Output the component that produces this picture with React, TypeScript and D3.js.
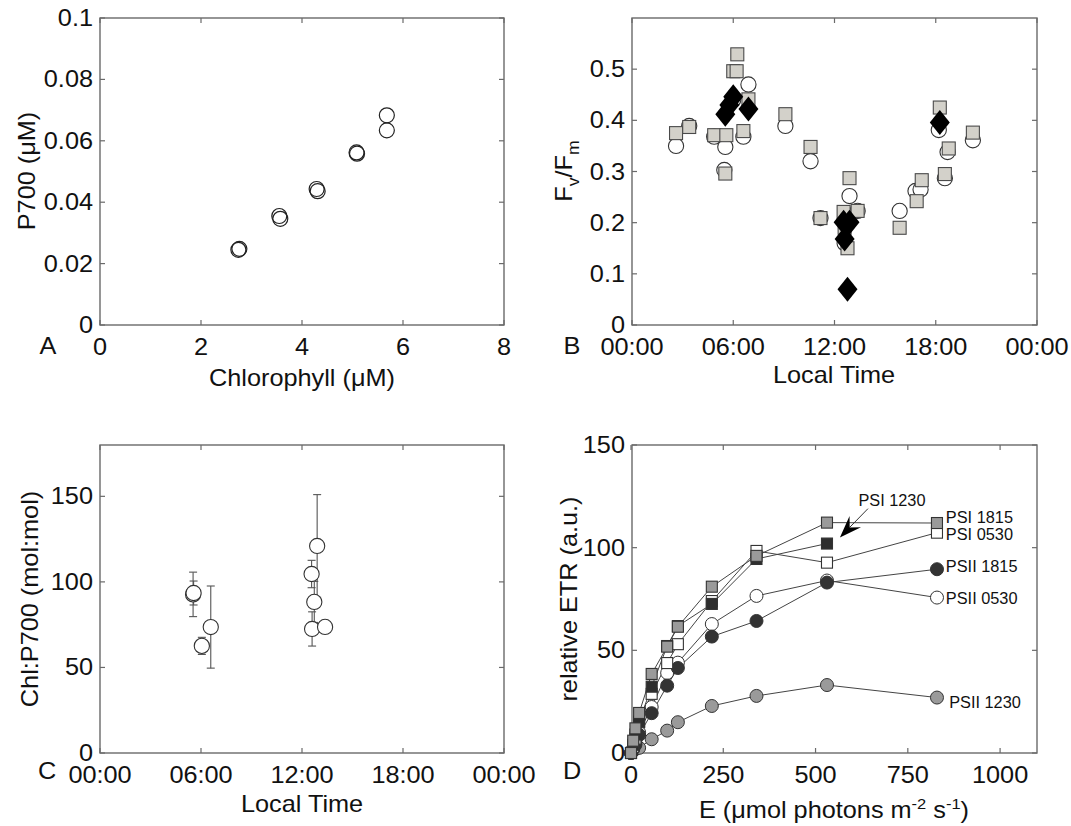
import React from "react";
import * as d3 from "d3";

const W = 1071;
const H = 826;
const FONT = "'Liberation Sans', Arial, Helvetica, sans-serif";
const AXIS = "#6a6a6a";
const SX = 1.1; // text in the figure is a bit wider than Arial

// ---- panel A : P700 vs chlorophyll
const chlA = [2.74, 2.76, 3.55, 3.57, 4.29, 4.31, 5.08, 5.09, 5.68, 5.68];
const p700A = [0.0245, 0.0248, 0.0355, 0.0346, 0.0443, 0.0436, 0.0562, 0.0558, 0.0683, 0.0634];
const chlTicks = [0, 2, 4, 6, 8];
const p700Ticks = [0, 0.02, 0.04, 0.06, 0.08, 0.1];
const p700TickLabels = ["0", "0.02", "0.04", "0.06", "0.08", "0.1"];

// ---- panel B : Fv/Fm over the day
const timeTicks = [0, 6, 12, 18, 24];
const timeTickLabels = ["00:00", "06:00", "12:00", "18:00", "00:00"];
const fvfmTicks = [0, 0.1, 0.2, 0.3, 0.4, 0.5];
const fvfmTickLabels = ["0", "0.1", "0.2", "0.3", "0.4", "0.5"];
const circTimeB = [2.61, 3.39, 4.87, 5.53, 5.47, 6.6, 6.9, 6.0, 9.09, 10.58, 11.17, 12.89, 13.37, 12.6, 15.86, 16.8, 17.1, 18.18, 18.7, 18.54, 20.2];
const circFvfmB = [0.35, 0.389, 0.368, 0.348, 0.303, 0.368, 0.47, 0.44, 0.389, 0.32, 0.209, 0.252, 0.223, 0.16, 0.223, 0.262, 0.265, 0.381, 0.338, 0.287, 0.361];
const sqTimeB = [2.61, 3.39, 4.87, 5.59, 5.53, 6.24, 6.0, 6.2, 6.9, 6.6, 9.09, 10.58, 11.17, 12.89, 12.54, 13.37, 12.77, 12.6, 15.86, 16.87, 17.17, 18.24, 18.77, 18.54, 20.2];
const sqFvfmB = [0.375, 0.387, 0.371, 0.371, 0.296, 0.529, 0.496, 0.496, 0.441, 0.379, 0.412, 0.348, 0.209, 0.287, 0.221, 0.223, 0.15, 0.19, 0.19, 0.242, 0.283, 0.425, 0.345, 0.295, 0.376];
const diaTimeB = [5.53, 5.77, 6.0, 6.9, 12.6, 12.54, 12.89, 12.77, 18.24];
const diaFvfmB = [0.412, 0.43, 0.446, 0.422, 0.168, 0.201, 0.201, 0.07, 0.396];

// ---- panel C : Chl:P700 with error bars
const ratioTicks = [0, 50, 100, 150];
const timeC = [5.53, 5.56, 6.05, 6.58, 12.57, 12.9, 12.73, 12.6, 13.37];
const ratioC = [92.7, 93.5, 62.6, 73.6, 104.6, 121, 88.3, 72.5, 73.7];
const errC = [13, 7, 5, 24, 8, 30, 12, 10, 0];

// ---- panel D : ETR light curves
const lightTicks = [0, 250, 500, 750, 1000];
const etrTicks = [0, 50, 100, 150];
const lightD = [0, 6, 12, 22, 56, 98, 127, 219, 340, 531, 829];
const psi1815 = [0, 6, 12, 19.5, 38.5, 51.8, 61.5, 81, 96, 112.2, 112];
const psi0530 = [0, 3, 7, 15, 28.8, 43.8, 53, 74, 98.4, 92.7, 107.3];
const psi1230 = [0, 4, 9, 15.3, 32.3, 52.1, 61.8, 72.6, 94.5, 102];
const psii1815 = [0, 2, 4, 8.8, 19.4, 32.8, 41.4, 56.7, 64.3, 83, 89.5];
const psii0530 = [0, 2, 5, 10, 22.4, 39, 44, 62.8, 76.5, 84, 75.7];
const psii1230 = [0, 1, 2, 2.5, 6.7, 10.9, 15, 22.9, 27.8, 33.1, 27];

const seriesD = [
  { name: "PSII 1230", vals: psii1230, shape: "circle", fill: "#9a9a9a", lx: 862, ly: 25 },
  { name: "PSII 0530", vals: psii0530, shape: "circle", fill: "#ffffff", lx: 853, ly: 75.5 },
  { name: "PSII 1815", vals: psii1815, shape: "circle", fill: "#333333", lx: 853, ly: 91 },
  { name: "PSI 0530", vals: psi0530, shape: "square", fill: "#ffffff", lx: 853, ly: 106.7 },
  { name: "PSI 1230", vals: psi1230, shape: "square", fill: "#2e2e2e", lx: 707, ly: 123 },
  { name: "PSI 1815", vals: psi1815, shape: "square", fill: "#9a9a9a", lx: 853, ly: 115 },
];

type Box = { l: number; r: number; t: number; b: number };
const boxA: Box = { l: 100, r: 504, t: 18, b: 325 };
const boxB: Box = { l: 632, r: 1037, t: 18, b: 325 };
const boxC: Box = { l: 100, r: 504, t: 445, b: 753 };
const boxD: Box = { l: 632, r: 1037, t: 445, b: 753 };

function Txt(props: any) {
  const { x, y, rot, size = 23, anchor = "middle", sx = SX, children, ...rest } = props;
  const tr = `translate(${x},${y})${rot ? ` rotate(${rot})` : ""} scale(${sx},1)`;
  return (
    <text transform={tr} textAnchor={anchor} fontSize={size} fontFamily={FONT} fill="#111" {...rest}>
      {children}
    </text>
  );
}

function Frame({ box, x, y, xt, xl, yt, yl }: any) {
  const tl = 5;
  return (
    <g>
      <rect x={box.l} y={box.t} width={box.r - box.l} height={box.b - box.t} fill="none" stroke={AXIS} strokeWidth={1.4} />
      {xt.map((v: number, i: number) => (
        <g key={"x" + i}>
          <line x1={x(v)} x2={x(v)} y1={box.b} y2={box.b - tl} stroke={AXIS} strokeWidth={1.2} />
          <line x1={x(v)} x2={x(v)} y1={box.t} y2={box.t + tl} stroke={AXIS} strokeWidth={1.2} />
          <Txt x={x(v)} y={box.b + 30}>{xl[i]}</Txt>
        </g>
      ))}
      {yt.map((v: number, i: number) => (
        <g key={"y" + i}>
          <line x1={box.l} x2={box.l + tl} y1={y(v)} y2={y(v)} stroke={AXIS} strokeWidth={1.2} />
          <line x1={box.r} x2={box.r - tl} y1={y(v)} y2={y(v)} stroke={AXIS} strokeWidth={1.2} />
          <Txt x={box.l - 7} y={y(v) + 8} anchor="end">{yl[i]}</Txt>
        </g>
      ))}
    </g>
  );
}

function sq(cx: number, cy: number, s: number, fill: string, stroke: string, key: any) {
  return <rect key={key} x={cx - s / 2} y={cy - s / 2} width={s} height={s} fill={fill} stroke={stroke} strokeWidth={1.1} />;
}

export default function App() {
  // scales
  const xA = d3.scaleLinear().domain([0, 8]).range([boxA.l, boxA.r]);
  const yA = d3.scaleLinear().domain([0, 0.1]).range([boxA.b, boxA.t]);
  const xB = d3.scaleLinear().domain([0, 24]).range([boxB.l, boxB.r]);
  const yB = d3.scaleLinear().domain([0, 0.6]).range([boxB.b, boxB.t]);
  const xC = d3.scaleLinear().domain([0, 24]).range([boxC.l, boxC.r]);
  const yC = d3.scaleLinear().domain([0, 180]).range([boxC.b, boxC.t]);
  const xD = d3.scaleLinear().domain([0, 1100]).range([boxD.l - 1, boxD.r]);
  const yD = d3.scaleLinear().domain([0, 150]).range([boxD.b, boxD.t]);

  const lineD = d3
    .line<number>()
    .x((_, i) => xD(lightD[i]))
    .y((d) => yD(d));

  // arrow in D (data coords)
  const a0 = [xD(642), yD(119)];
  const a1 = [xD(566), yD(105)];
  const ang = Math.atan2(a1[1] - a0[1], a1[0] - a0[0]);
  const rotp = (dx: number, dy: number) => [
    a1[0] + dx * Math.cos(ang) - dy * Math.sin(ang),
    a1[1] + dx * Math.sin(ang) + dy * Math.cos(ang),
  ];
  const head = [rotp(0, 0), rotp(-22, -8), rotp(-14, 0), rotp(-22, 8)];

  return (
    <svg width={W} height={H} style={{ position: "absolute", left: 0, top: 0, background: "#fff" }}>
      <rect width={W} height={H} fill="#fff" />

      {/* ---------- A ---------- */}
      <Frame box={boxA} x={xA} y={yA} xt={chlTicks} xl={chlTicks.map(String)} yt={p700Ticks} yl={p700TickLabels} />
      {chlA.map((c, i) => (
        <circle key={i} cx={xA(c)} cy={yA(p700A[i])} r={7.5} fill="none" stroke="#222" strokeWidth={1.2} />
      ))}
      <Txt x={48} y={354}>A</Txt>
      <Txt x={302} y={386}>Chlorophyll (μM)</Txt>
      <Txt x={35} y={171} rot={-90}>P700 (μM)</Txt>

      {/* ---------- B ---------- */}
      <Frame box={boxB} x={xB} y={yB} xt={timeTicks} xl={timeTickLabels} yt={fvfmTicks} yl={fvfmTickLabels} />
      {circTimeB.map((t, i) => (
        <circle key={"c" + i} cx={xB(t)} cy={yB(circFvfmB[i])} r={7.6} fill="#fff" stroke="#333" strokeWidth={1.1} />
      ))}
      {sqTimeB.map((t, i) => sq(xB(t), yB(sqFvfmB[i]), 13, "#d3d1ca", "#4a4a4a", "s" + i))}
      {diaTimeB.map((t, i) => {
        const cx = xB(t);
        const cy = yB(diaFvfmB[i]);
        return <path key={"d" + i} d={`M${cx},${cy - 12.5}L${cx + 10},${cy}L${cx},${cy + 12.5}L${cx - 10},${cy}Z`} fill="#000" />;
      })}
      <Txt x={572} y={354}>B</Txt>
      <Txt x={834} y={383}>Local Time</Txt>
      <Txt x={572} y={171} rot={-90}>
        F<tspan fontSize={16} dy={7}>v</tspan>
        <tspan dy={-7}>/F</tspan>
        <tspan fontSize={16} dy={7}>m</tspan>
      </Txt>

      {/* ---------- C ---------- */}
      <Frame box={boxC} x={xC} y={yC} xt={timeTicks} xl={timeTickLabels} yt={ratioTicks} yl={ratioTicks.map(String)} />
      {timeC.map((t, i) => {
        const cx = xC(t);
        const y0 = yC(ratioC[i] - errC[i]);
        const y1 = yC(ratioC[i] + errC[i]);
        if (!errC[i]) return null;
        return (
          <g key={"e" + i} stroke="#555" strokeWidth={1.1}>
            <line x1={cx} x2={cx} y1={y0} y2={y1} />
            <line x1={cx - 4} x2={cx + 4} y1={y0} y2={y0} />
            <line x1={cx - 4} x2={cx + 4} y1={y1} y2={y1} />
          </g>
        );
      })}
      {timeC.map((t, i) => (
        <circle key={"cc" + i} cx={xC(t)} cy={yC(ratioC[i])} r={7.6} fill="#fff" stroke="#333" strokeWidth={1.1} />
      ))}
      <Txt x={47} y={779}>C</Txt>
      <Txt x={302} y={812}>Local Time</Txt>
      <Txt x={38} y={599} rot={-90}>Chl:P700 (mol:mol)</Txt>

      {/* ---------- D ---------- */}
      <Frame box={boxD} x={xD} y={yD} xt={lightTicks} xl={lightTicks.map(String)} yt={etrTicks} yl={etrTicks.map(String)} />
      {seriesD.map((s) => (
        <path key={"l" + s.name} d={lineD(s.vals) || ""} fill="none" stroke="#444" strokeWidth={1} />
      ))}
      {seriesD.map((s) => (
        <g key={"m" + s.name}>
          {s.vals.map((v, i) =>
            s.shape === "circle" ? (
              <circle key={i} cx={xD(lightD[i])} cy={yD(v)} r={6.5} fill={s.fill} stroke="#333" strokeWidth={1} />
            ) : (
              sq(xD(lightD[i]), yD(v), 11, s.fill, "#333", i)
            )
          )}
        </g>
      ))}
      {seriesD.map((s) => (
        <Txt
          key={"t" + s.name}
          x={xD(s.lx)}
          y={yD(s.ly) + 6}
          size={16}
          sx={1.02}
          anchor={s.name === "PSI 1230" ? "middle" : "start"}
        >
          {s.name}
        </Txt>
      ))}
      <line x1={a0[0]} y1={a0[1]} x2={rotp(-14, 0)[0]} y2={rotp(-14, 0)[1]} stroke="#333" strokeWidth={1} />
      <path d={"M" + head.map((p) => p.join(",")).join("L") + "Z"} fill="#000" />
      <Txt x={572} y={779}>D</Txt>
      <Txt x={834} y={818}>
        E (μmol photons m<tspan fontSize={15} dy={-9}>-2</tspan>
        <tspan dy={9}> s</tspan>
        <tspan fontSize={15} dy={-9}>-1</tspan>
        <tspan dy={9}>)</tspan>
      </Txt>
      <Txt x={577} y={599} rot={-90}>relative ETR (a.u.)</Txt>
    </svg>
  );
}
